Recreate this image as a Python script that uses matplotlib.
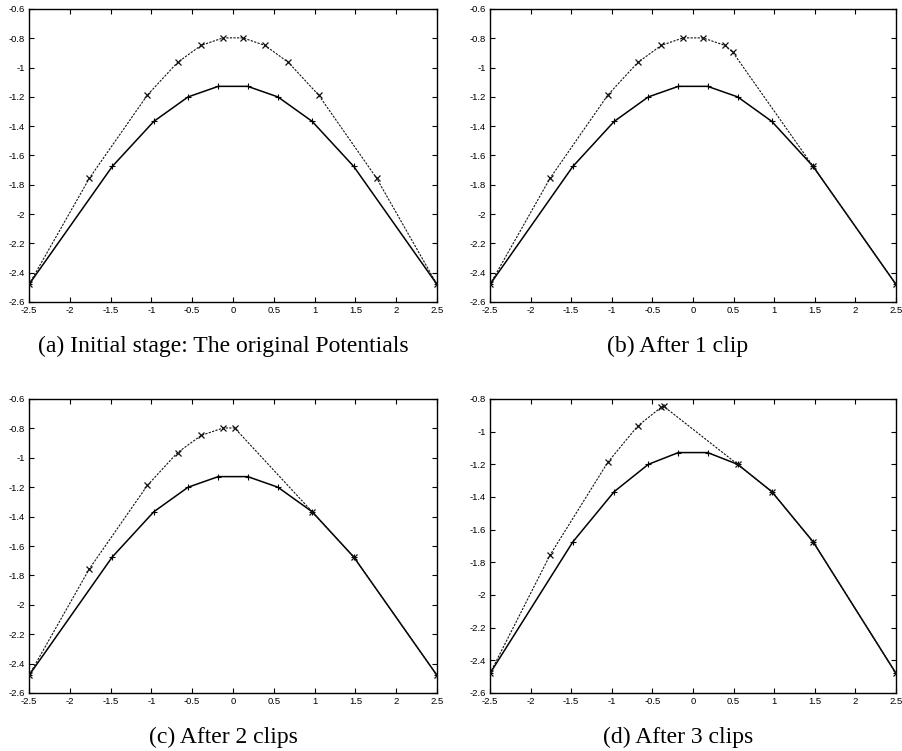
import matplotlib
matplotlib.use("Agg")
import matplotlib.pyplot as plt
from matplotlib.ticker import FuncFormatter

# potential after clipping
solid_x = [-2.5, -1.48, -0.97, -0.55, -0.18, 0.18, 0.55, 0.97, 1.48, 2.5]
solid_y = [-2.48, -1.675, -1.367, -1.20, -1.128, -1.128, -1.20, -1.367, -1.675, -2.48]

# original potentials, one series per stage
a_x = [-2.5, -1.76, -1.05, -0.68, -0.39, -0.12, 0.12, 0.39, 0.68, 1.05, 1.76, 2.5]
a_y = [-2.48, -1.755, -1.188, -0.965, -0.848, -0.797, -0.797, -0.848, -0.965, -1.188, -1.755, -2.48]

b_x = [-2.5, -1.76, -1.05, -0.68, -0.39, -0.12, 0.12, 0.39, 0.49, 1.48, 2.5]
b_y = [-2.48, -1.755, -1.188, -0.965, -0.848, -0.797, -0.797, -0.848, -0.895, -1.675, -2.48]

c_x = [-2.5, -1.76, -1.05, -0.68, -0.39, -0.12, 0.02, 0.97, 1.48, 2.5]
c_y = [-2.48, -1.755, -1.188, -0.965, -0.848, -0.797, -0.797, -1.367, -1.675, -2.48]

d_x = [-2.5, -1.76, -1.05, -0.68, -0.39, -0.36, 0.55, 0.97, 1.48, 2.5]
d_y = [-2.48, -1.755, -1.188, -0.965, -0.85, -0.845, -1.20, -1.367, -1.675, -2.48]

captions = ["(a) Initial stage: The original Potentials", "(b) After 1 clip",
            "(c) After 2 clips", "(d) After 3 clips"]

x_ticks = [-2.5, -2, -1.5, -1, -0.5, 0, 0.5, 1, 1.5, 2, 2.5]
y_ticks_full = [-2.6, -2.4, -2.2, -2, -1.8, -1.6, -1.4, -1.2, -1, -0.8, -0.6]
y_ticks_d = [-2.6, -2.4, -2.2, -2, -1.8, -1.6, -1.4, -1.2, -1, -0.8]

W, H = 903, 751
fig = plt.figure(figsize=(W / 100, H / 100), dpi=100)

# axes boxes in pixels: left, top, right, bottom
boxes = [(29, 9, 437, 302), (490, 9, 896, 302),
         (29, 399, 437, 693), (490, 399, 896, 693)]
caption_pos = [(223, 346), (678, 346), (223, 737), (678, 737)]
dashed = [(a_x, a_y), (b_x, b_y), (c_x, c_y), (d_x, d_y)]
yticks = [y_ticks_full, y_ticks_full, y_ticks_full, y_ticks_d]

fmt = FuncFormatter(lambda v, p: "%g" % round(v, 3))

for i in range(4):
    l, t, r, b = boxes[i]
    ax = fig.add_axes([l / W, 1 - b / H, (r - l) / W, (b - t) / H])
    ax.plot(solid_x, solid_y, color="black", linewidth=1.1,
            marker="+", markersize=4, markeredgewidth=0.8, zorder=3)
    dx, dy = dashed[i]
    ax.plot(dx, dy, color="#111111", linewidth=0.8, dashes=(2, 1.2),
            marker="x", markersize=4, markeredgewidth=0.9, zorder=4)
    ax.set_xlim(-2.5, 2.5)
    ax.set_ylim(yticks[i][0], yticks[i][-1])
    ax.set_xticks(x_ticks)
    ax.set_yticks(yticks[i])
    ax.xaxis.set_major_formatter(fmt)
    ax.yaxis.set_major_formatter(fmt)
    ax.tick_params(direction="in", top=True, right=True, length=3.5, width=0.8,
                   labelsize=6.8, pad=3)
    for lab in ax.get_xticklabels() + ax.get_yticklabels():
        lab.set_family(["Liberation Sans", "DejaVu Sans"])
    for s in ax.spines.values():
        s.set_linewidth(1.0)
    cx, cy = caption_pos[i]
    fig.text(cx / W, 1 - cy / H, captions[i], ha="center", va="center",
             fontsize=17, family=["Liberation Serif", "DejaVu Serif"])

plt.savefig("out.png", dpi=100)
plt.close(fig)
